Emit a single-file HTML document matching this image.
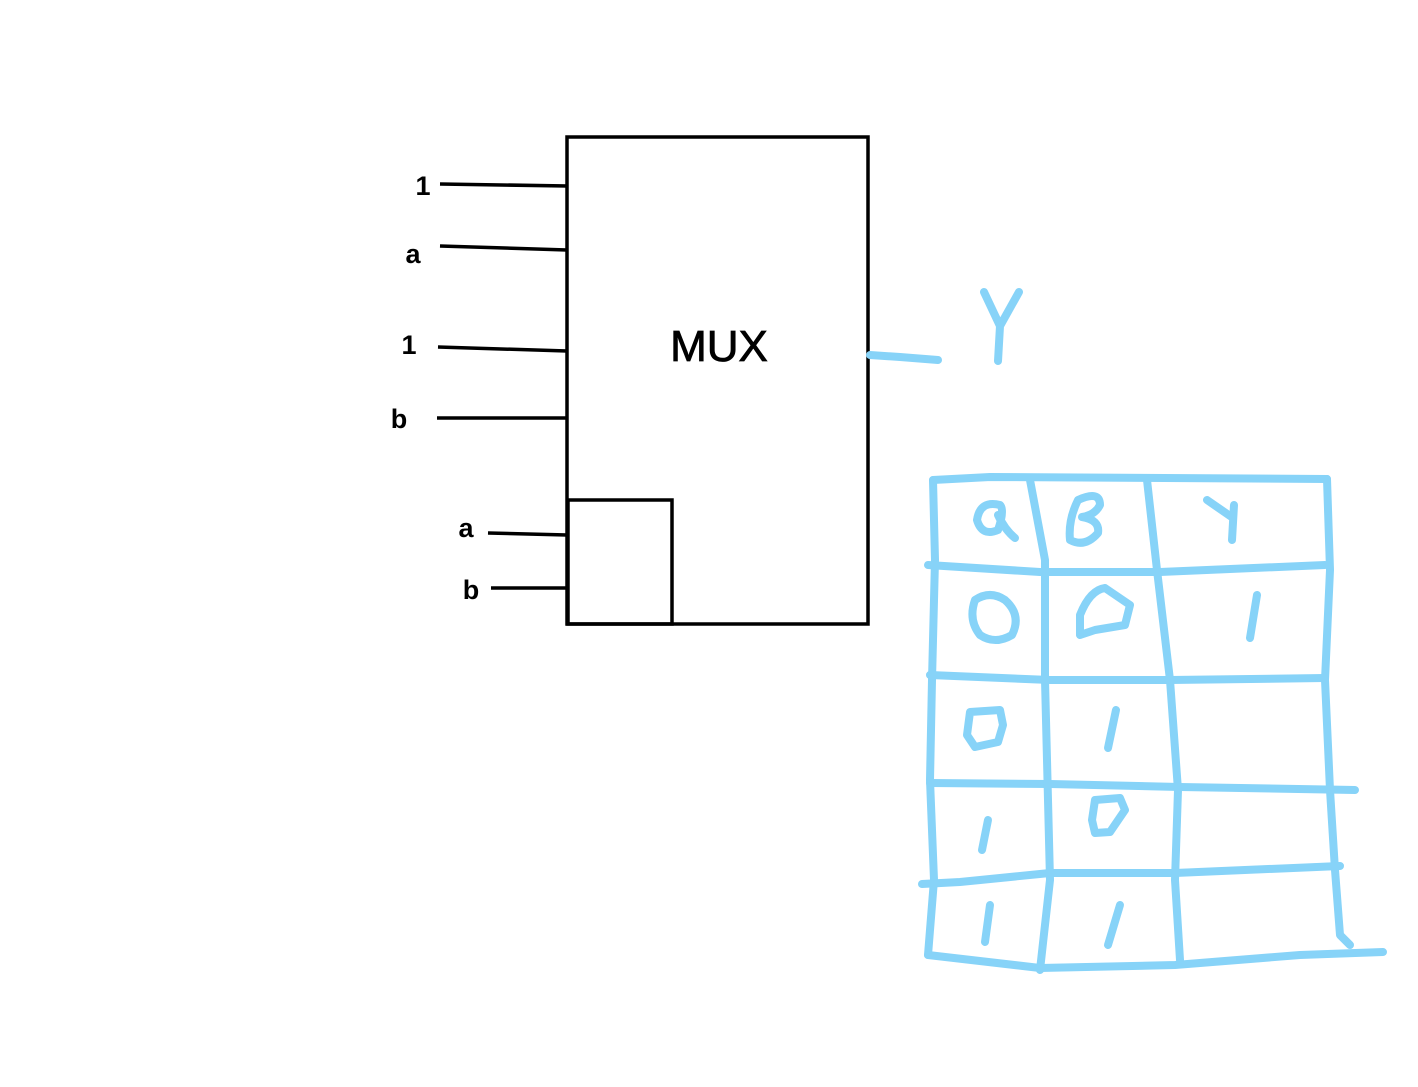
<!DOCTYPE html>
<html><head><meta charset="utf-8"><style>html,body{margin:0;padding:0;background:#fff;width:1418px;height:1087px;overflow:hidden}</style></head>
<body>
<svg width="1418" height="1087" viewBox="0 0 1418 1087" xmlns="http://www.w3.org/2000/svg">
<g stroke="#000" stroke-width="3.5" fill="none">
<rect x="567" y="137" width="301" height="487"/>
<rect x="568" y="500" width="104" height="124"/>
<line x1="440" y1="184" x2="568" y2="186"/>
<line x1="440" y1="246" x2="567" y2="250"/>
<line x1="438" y1="347" x2="567" y2="351"/>
<line x1="437" y1="418" x2="567" y2="418"/>
<line x1="488" y1="533" x2="567" y2="535"/>
<line x1="491" y1="588" x2="567" y2="588"/>
</g>
<g font-family="Liberation Sans, sans-serif" font-weight="bold" font-size="27" fill="#000" text-anchor="middle">
<text x="423" y="195">1</text>
<text x="413" y="263">a</text>
<text x="409" y="354">1</text>
<text x="399" y="428">b</text>
<text x="466" y="537">a</text>
<text x="471" y="599">b</text>
</g>
<text x="719" y="361" font-family="Liberation Sans, sans-serif" font-size="44" text-anchor="middle" fill="#000" stroke="#000" stroke-width="0.8">MUX</text>
<g stroke="#87d3f8" stroke-width="8" fill="none" stroke-linecap="round" stroke-linejoin="round">
<path d="M870 355 L900 357 L938 360"/>
<path d="M984 292 L1000 326 L1019 292 M1000 326 L998 361"/>
<path d="M933 480 L990 477 L1327 479"/>
<path d="M933 480 L935 560 L932 680 L930 780 L934 880 L928 955"/>
<path d="M1327 479 L1330 570 L1325 680 L1330 790 L1335 870 L1340 935 L1350 945"/>
<path d="M928 955 L1040 968 L1175 965 L1300 955 L1383 952"/>
<path d="M928 565 L1040 572 L1160 572 L1325 565"/>
<path d="M930 675 L1050 680 L1170 680 L1325 678"/>
<path d="M930 783 L1050 784 L1180 787 L1355 790"/>
<path d="M922 884 L960 882 L1050 873 L1175 873 L1340 866"/>
<path d="M1030 480 L1045 560 L1045 680 L1050 880 L1040 970"/>
<path d="M1147 480 L1157 570 L1170 680 L1178 790 L1175 880 L1180 960"/>
<path d="M1000 505 Q980 500 977 520 Q982 537 998 530 Q1005 510 1000 505 M998 515 Q1005 530 1015 538"/>
<path d="M1078 500 Q1100 490 1100 505 Q1095 515 1082 517 Q1100 520 1098 533 Q1085 548 1070 540 Q1068 520 1078 500"/>
<path d="M1207 500 L1233 518 M1234 505 L1232 540"/>
<path d="M975 600 Q990 590 1005 600 Q1022 615 1012 635 Q995 645 980 635 Q968 620 975 600"/>
<path d="M1080 635 L1080 615 Q1090 590 1105 588 L1130 605 L1125 625 L1095 630 L1080 635"/>
<path d="M1257 595 L1250 638"/>
<path d="M970 712 L1000 710 L1003 725 L998 742 L975 747 L967 735 Z"/>
<path d="M1116 710 L1108 748"/>
<path d="M988 820 L982 850"/>
<path d="M1095 800 L1120 798 L1125 810 L1110 832 L1095 833 L1092 820 Z"/>
<path d="M990 905 L985 942"/>
<path d="M1120 905 L1108 945"/>
</g>
</svg>
</body></html>
